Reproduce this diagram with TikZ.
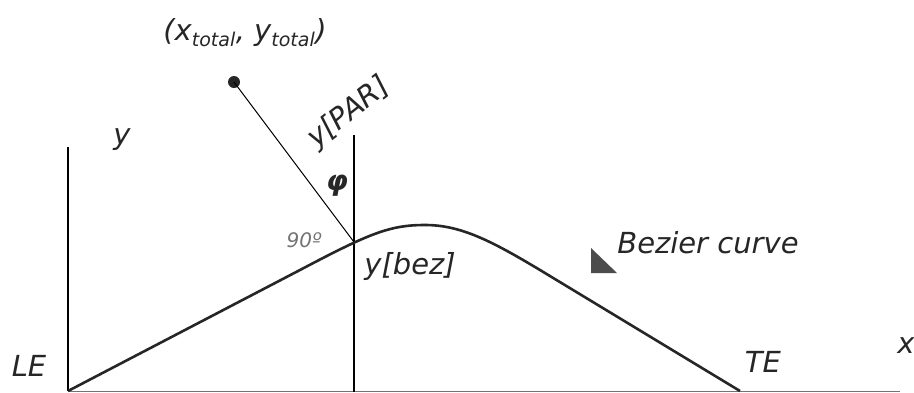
\documentclass[tikz,border=0pt]{standalone}
\usepackage{fontspec}
\setmainfont{DejaVu Sans}
\begin{document}
\begin{tikzpicture}[x=1pt,y=-1pt,
  lbl/.style={font=\fontsize{29}{32}\selectfont\itshape, text=black!85, inner sep=0pt},
  axisline/.style={line width=1.4pt, black},
  curveline/.style={line width=2.6pt, black!85},
  radline/.style={line width=1pt, black}]
\useasboundingbox (0,0) rectangle (914,392);
% coordinates
\coordinate (LEbase) at (68,391);
\coordinate (LEtop) at (68,147);
\coordinate (MIDbase) at (354,392);
\coordinate (MIDtop) at (354,135);
\coordinate (TEbase) at (740,391);
\coordinate (Xend) at (900,391);
\coordinate (Ybez) at (354,242);
\node[circle, fill=black!85, inner sep=0pt, minimum size=12pt] (dot) at (234,82) {};
% axes
\draw[line width=1pt, black!55] (LEbase) -- (Xend);
\draw[axisline] (LEbase) -- (LEtop);
\draw[axisline] (MIDbase) -- (MIDtop);
% bezier curve
\draw[curveline] (LEbase) -- (300,270) .. controls (370,233) and (390,225) .. (425,225)
  .. controls (460,225) and (490,240) .. (540,270) -- (TEbase);
% radial line
\draw[radline] (dot.center) -- (Ybez);
% triangle marker
\fill[black!70] (591,248) -- (591,273) -- (617,273) -- cycle;
% labels
\node[lbl] (ptot) at (245,33) {(x\textsubscript{\fontsize{19}{21}\selectfont total}, y\textsubscript{\fontsize{19}{21}\selectfont total})};
\node[lbl] (ylab) at (122,140) {y};
\node[lbl, rotate=38] (ypar) at (349,113) {y[PAR]};
\node[lbl, font=\fontsize{28}{32}\selectfont\bfseries\itshape] (phi) at (337,186) {φ};
\node[lbl, font=\fontsize{20}{22}\selectfont\itshape, text=black!55] (ninety) at (304,240) {90º};
\node[lbl] (ybez) at (410,266) {y[bez]};
\node[lbl] (bez) at (708,243) {Bezier curve};
\node[lbl] (le) at (29,366) {LE};
\node[lbl] (te) at (763,362) {TE};
\node[lbl] (xlab) at (906,346) {x};
\end{tikzpicture}
\end{document}
